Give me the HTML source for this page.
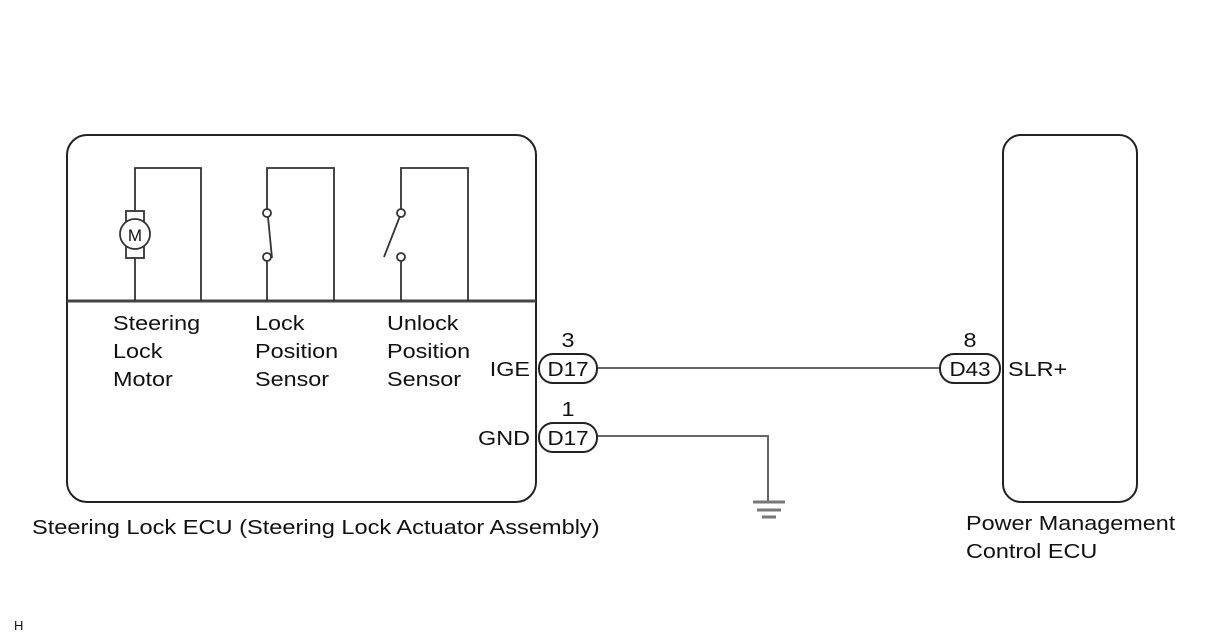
<!DOCTYPE html>
<html><head><meta charset="utf-8"><style>
html,body{margin:0;padding:0;background:#fff;}
svg{display:block;}
text{font-family:"Liberation Sans",Arial,sans-serif;fill:#111;}
</style></head><body>
<svg width="1208" height="644" viewBox="0 0 1208 644" xmlns="http://www.w3.org/2000/svg">
<g fill="none" stroke="#222" stroke-width="2">
<rect x="67" y="135" width="469" height="367" rx="20"/>
<rect x="1003" y="135" width="134" height="367" rx="18"/>
</g>
<line x1="67" y1="301" x2="536" y2="301" stroke="#444" stroke-width="3"/>
<g fill="none" stroke="#333" stroke-width="1.8">
<polyline points="135,211 135,168 201,168 201,301"/>
<line x1="135" y1="258" x2="135" y2="301"/>
<rect x="126" y="211" width="18" height="47"/>
<circle cx="135" cy="234" r="15" fill="#fff"/>
<polyline points="267,209 267,168 334,168 334,301"/>
<line x1="267" y1="260" x2="267" y2="301"/>
<line x1="268" y1="217" x2="272" y2="258"/>
<circle cx="267" cy="213" r="4" fill="#fff"/>
<circle cx="267" cy="257" r="4" fill="#fff"/>
<polyline points="401,209 401,168 468,168 468,301"/>
<line x1="401" y1="260" x2="401" y2="301"/>
<line x1="400" y1="216" x2="384" y2="257"/>
<circle cx="401" cy="213" r="4" fill="#fff"/>
<circle cx="401" cy="257" r="4" fill="#fff"/>
</g>
<text x="135" y="241" font-size="17" text-anchor="middle">M</text>
<g font-size="20">
<text transform="translate(113,330) scale(1.17,1)">Steering</text>
<text transform="translate(113,358) scale(1.17,1)">Lock</text>
<text transform="translate(113,386) scale(1.17,1)">Motor</text>
<text transform="translate(255,330) scale(1.17,1)">Lock</text>
<text transform="translate(255,358) scale(1.17,1)">Position</text>
<text transform="translate(255,386) scale(1.17,1)">Sensor</text>
<text transform="translate(387,330) scale(1.17,1)">Unlock</text>
<text transform="translate(387,358) scale(1.17,1)">Position</text>
<text transform="translate(387,386) scale(1.17,1)">Sensor</text>
<text transform="translate(530,376) scale(1.17,1)" text-anchor="end">IGE</text>
<text transform="translate(530,445) scale(1.17,1)" text-anchor="end">GND</text>
<text transform="translate(568,347) scale(1.17,1)" text-anchor="middle">3</text>
<text transform="translate(568,416) scale(1.17,1)" text-anchor="middle">1</text>
<text transform="translate(970,347) scale(1.17,1)" text-anchor="middle">8</text>
<text transform="translate(1008,376) scale(1.17,1)">SLR+</text>
<text transform="translate(32,534) scale(1.18,1)">Steering Lock ECU (Steering Lock Actuator Assembly)</text>
<text transform="translate(966,530) scale(1.17,1)">Power Management</text>
<text transform="translate(966,558) scale(1.17,1)">Control ECU</text>
</g>
<text x="14" y="630" font-size="13">H</text>
<g stroke="#666" stroke-width="2" fill="none">
<line x1="597" y1="368" x2="940" y2="368"/>
<polyline points="597,436 768,436 768,501"/>
</g>
<g stroke="#777" stroke-width="3">
<line x1="753" y1="502" x2="785" y2="502"/>
<line x1="757" y1="510" x2="781" y2="510"/>
<line x1="762" y1="517" x2="776" y2="517"/>
</g>
<g fill="#fff" stroke="#222" stroke-width="2">
<rect x="539" y="354" width="58" height="29" rx="14"/>
<rect x="539" y="423" width="58" height="29" rx="14"/>
<rect x="940" y="354" width="60" height="29" rx="14"/>
</g>
<g font-size="20" text-anchor="middle">
<text transform="translate(568,376) scale(1.12,1)">D17</text>
<text transform="translate(568,445) scale(1.12,1)">D17</text>
<text transform="translate(970,376) scale(1.12,1)">D43</text>
</g>
</svg>
</body></html>
